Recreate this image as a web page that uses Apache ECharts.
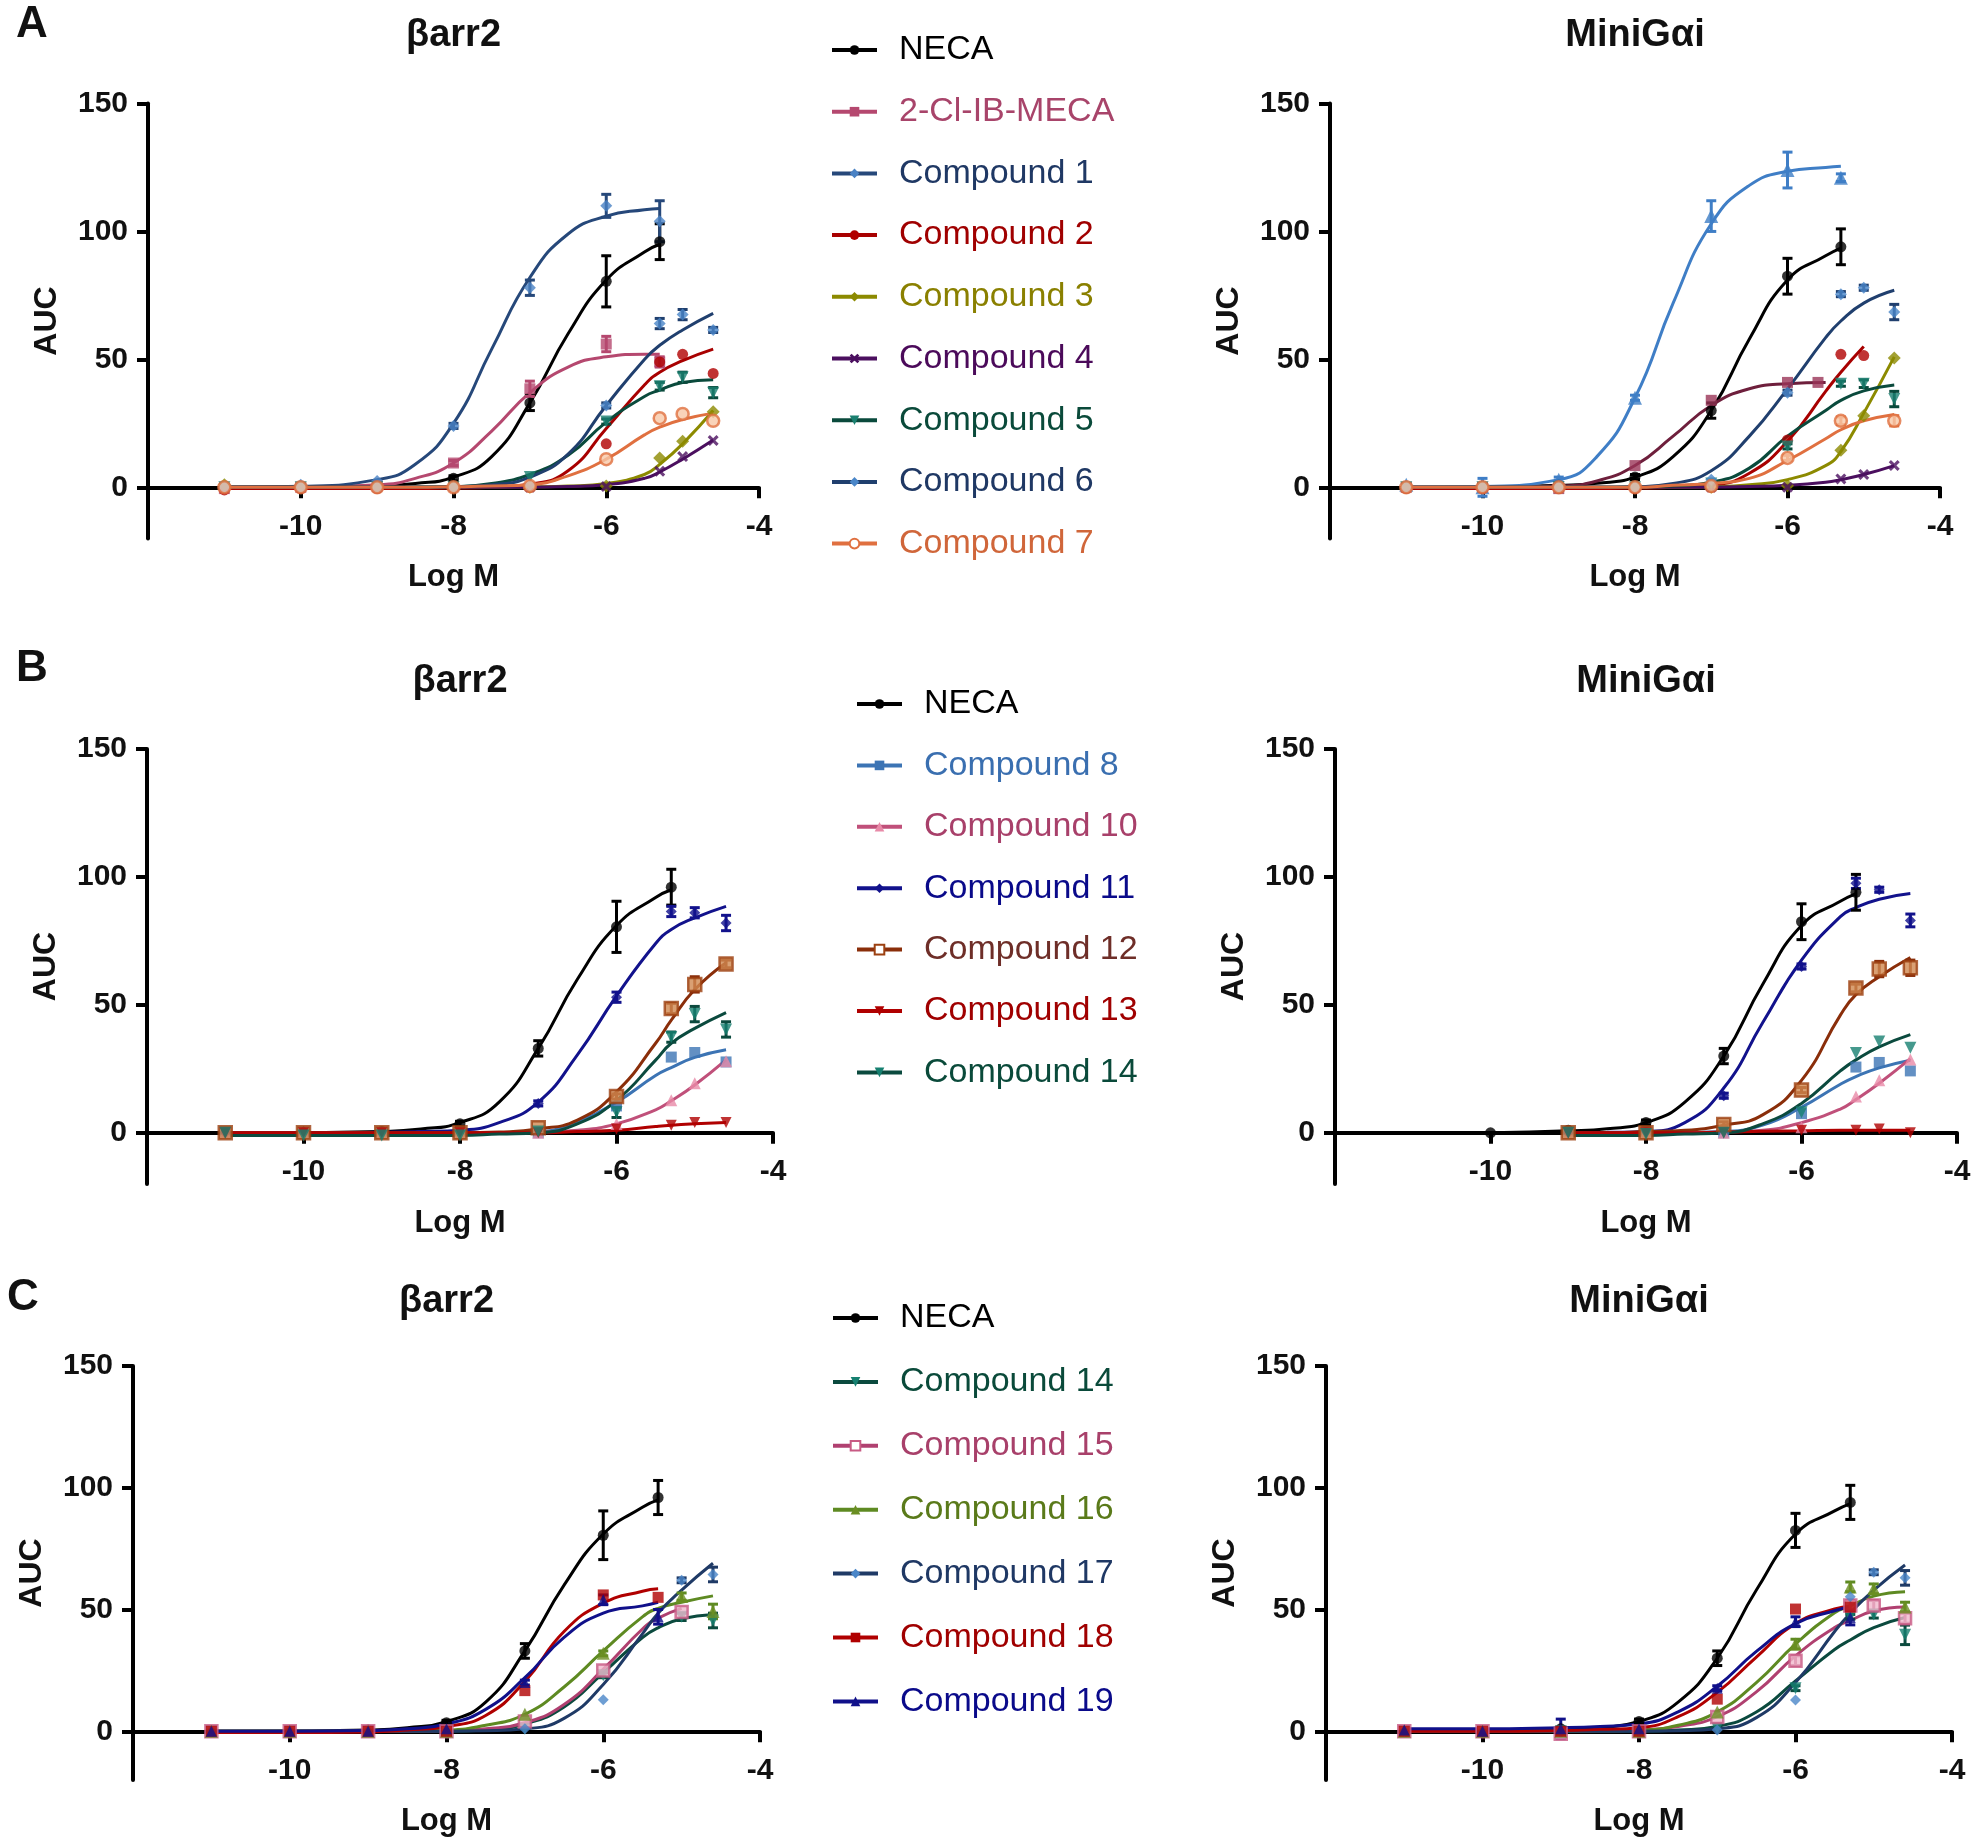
<!DOCTYPE html>
<html><head><meta charset="utf-8">
<script src="https://cdn.jsdelivr.net/npm/echarts@6/dist/echarts.min.js"></script>
<style>html,body{margin:0;padding:0;background:#fff}#c{width:1980px;height:1839px}</style>
</head><body><div id="c"></div><script>
// ---------- DATA ----------
const conc = [-11, -10, -9, -8, -7, -6, -5.3, -5, -4.6];
const concMecaGai = [-11, -10, -9, -8, -7, -6, -5.6];
const fitX = [-11, -10, -9, -8.5, -8, -7.5, -7, -6.5, -6, -5.5, -5.3, -5, -4.6];
const xTicks = [-10, -8, -6, -4];
const yTicks = [0, 50, 100, 150];

// NECA (shared)
const necaArrPts = [0, 0, 0.5, 3.5, 33, 80.5, 96, null, null];
const necaArrErr = [0, 0, 0, 1, 3, 10, 7, null, null];
const necaArrFit = [0, 0.1, 0.5, 1.5, 4, 12, 33, 60, 81, 92, 95, null, null];
const necaGaiPts = [null, 0, 1, 4, 30, 82.5, 94, null, null];
const necaGaiErr = [null, 0, 0, 1, 3, 7, 7, null, null];
const necaGaiFit = [null, 0, 0.8, 1.6, 4, 12, 30, 58, 81, 90.5, 93.5, null, null];

// Panel A - βarr2
const mecaArrPts = [-0.5, 0, 0.5, 9.5, 38.5, 56, 49, null, null];
const mecaArrErr = [0, 0, 0, 1, 3, 3, 2, null, null];
const mecaArrFit = [0, 0.2, 1, 3.5, 9.5, 22, 37, 47, 51, 52, 52, null, null];
const c1ArrPts = [0, 1, 2.5, 24, 78, 110, 104, null, null];
const c1ArrErr = [0, 0, 0, 1, 3, 4.5, 8, null, null];
const c1ArrFit = [0, 0.4, 3, 9, 25, 54, 82, 99, 106, 108.5, 109, null, null];
const c2ArrPts = [-1, -0.5, -0.5, 0, 0, 17, 49, 52, 44.5];
const c2ArrFit = [-0.5, -0.5, -0.5, -0.5, -0.3, 0, 1.2, 6.5, 23, 40, 45, 49.5, 54];
const c3ArrPts = [1, 0, 0, 0, 0, 0.5, 11.5, 18, 29.5];
const c3ArrFit = [0, 0, 0, 0, 0, 0, 0.2, 0.5, 1.5, 5, 9, 17, 30];
const c4ArrPts = [0, 0, 0, 0, 0, 0.3, 6.3, 12, 18.3];
const c4ArrFit = [0, 0, 0, 0, 0, 0, 0.1, 0.3, 1, 3.5, 6, 11, 18.5];
const c5ArrPts = [0, 0, 0, 0, 4, 25.7, 39.5, 43, 37];
const c5ArrErr = [0, 0, 0, 0, 0, 1, 1.5, 2, 2];
const c5ArrFit = [0, 0, 0, 0.1, 0.3, 1.5, 5, 12.5, 25.5, 35.5, 38, 41, 42];
const c6ArrPts = [0, 0, 0, 0, 1, 32, 64, 67.5, 61.5];
const c6ArrErr = [0, 0, 0, 0, 0, 1, 2, 2, 1];
const c6ArrFit = [0, 0, 0, 0, 0.2, 1, 4, 13, 32, 50, 55.5, 61.5, 68];
const c7ArrPts = [0, 0, 0, 0, 0.5, 11, 27, 28.7, 26];
const c7ArrFit = [0, 0, 0, 0, 0.2, 0.5, 1, 4.5, 11, 20.5, 23.5, 26.5, 29];

// Panel A - MiniGαi
const mecaGaiPts = [0, 0, -0.5, 8.5, 34, 41, 41];
const mecaGaiFit = [0, 0, 0.5, 2.5, 8.5, 20, 32, 38.5, 40.5, 41, null, null, null];
const c1GaiPts = [1, 0, 3, 35, 106, 124, 121, null, null];
const c1GaiErr = [0, 3.5, 1, 1, 6, 7, 1.5, null, null];
const c1GaiFit = [0, 0.3, 3, 12, 35, 72, 103, 118, 123.5, 125, 125.5, null, null];
const c2GaiPts = [-0.5, -0.5, -0.5, -0.5, 0, 18.5, 52, 51.5, null];
const c2GaiFit = [-0.5, -0.5, -0.5, -0.5, -0.3, 0, 0.8, 5.5, 18, 37.5, 45, 55, null];
const c3GaiPts = [0, 0, 0, 0, 0, 0.6, 14.5, 28, 50.5];
const c3GaiFit = [0, 0, 0, 0, 0, 0, 0.2, 1, 3, 8.5, 14, 29, 51];
const c4GaiPts = [0, 0, 0, 0, 0, 0, 3.3, 5, 8.5];
const c4GaiFit = [0, 0, 0, 0, 0, 0, 0.1, 0.3, 0.8, 2, 3, 5, 8.5];
const c5GaiPts = [0, 0, 0, 0, 1.5, 16, 40.5, 40.5, 34.5];
const c5GaiErr = [0, 0, 0, 0, 0, 1, 1, 1.5, 3];
const c5GaiFit = [0, 0, 0, 0, 0.1, 0.5, 2, 7.5, 20, 30, 34, 37.7, 40];
const c6GaiPts = [0, 0, 0, 0, 3, 37, 75.5, 78, 68.5];
const c6GaiErr = [0, 0, 0, 0, 0, 1, 1, 1, 3];
const c6GaiFit = [0, 0, 0, 0, 0.2, 1.5, 6.5, 20, 38.5, 58.5, 65, 72, 77];
const c7GaiPts = [0, 0, 0, 0, 0.5, 11.5, 26, null, 26];
const c7GaiErr = [0, 0, 0, 0, 0, 1, 1.5, null, 2];
const c7GaiFit = [0, 0, 0, 0, 0, 0.8, 1.5, 3.5, 10.5, 19, 22.5, 26, 28.5];

// Panel B - βarr2
const c8ArrPts = [0, 0, 0, 0, 0, 10.5, 29.6, 31.4, 27.7];
const c8ArrFit = [0, 0, 0, 0, 0, 0.1, 0.5, 4.5, 12, 22.4, 25.5, 29.5, 32.5];
const c10ArrPts = [0, 0, 0, 0, 0, 3.4, 12.7, 19.4, 28];
const c10ArrFit = [0, 0, 0, 0, 0, 0, 0.3, 1, 3.5, 9, 12.5, 18.7, 28.5];
const c11ArrPts = [0, 0.5, 0.3, 0.5, 11.5, 53, 86.5, 86, 82];
const c11ArrErr = [0, 0, 0, 0, 1, 2, 2, 2, 3];
const c11ArrFit = [0, 0, 0.2, 0.5, 1, 4, 12, 30.5, 53.5, 74, 79.5, 84, 88.5];
const c12ArrPts = [0, 0, 0, 0, 2, 14.2, 48.6, 58, 66];
const c12ArrErr = [0, 0, 0, 0, 0, 1, 2, 3, 1.5];
const c12ArrFit = [0, 0, 0, 0, 0, 0.3, 1.5, 5, 16, 35, 44, 56, 66.5];
const c13ArrPts = [0, 0, 0, 0, 0, 1.5, 3, 4, 4];
const c13ArrFit = [0, 0, 0, 0, 0, 0, 0, 0.5, 1, 2.5, 3, 3.5, 4];
const c14ArrPts = [0, -1, -1, -1, 0.5, 8, 37.4, 46.4, 40.4];
const c14ArrErr = [0, 0, 0, 0, 0, 2, 2, 3, 3];
const c14ArrFit = [-1, -1, -1, -1, -1, -0.5, 0, 3.5, 12.7, 28.4, 35, 40.8, 47];

// Panel B - MiniGαi
const c8GaiPts = [null, null, 0, 0, 0, 7.5, 25.7, 27.5, 24.2];
const c8GaiFit = [null, null, 0, 0, 0, 0.1, 0.5, 3, 10, 19, 22, 25.4, 28.4];
const c10GaiPts = [null, null, 0, 0, 0, 2.2, 14.2, 20.5, 28.7];
const c10GaiFit = [null, null, 0, 0, 0, 0, 0.3, 1, 4, 9.3, 13, 19.4, 29];
const c11GaiPts = [null, null, 0, 0.5, 14.5, 65, 97.5, 95, 83];
const c11GaiErr = [null, null, 0, 0, 1, 1, 2, 1, 2.5];
const c11GaiFit = [null, null, 0, 0.2, 0.5, 4, 17.5, 43, 67.5, 84.5, 88, 91.3, 93.5];
const c12GaiPts = [null, null, 0, 0, 3.3, 16.7, 56.6, 64, 64.5];
const c12GaiErr = [null, null, 0, 0, 1, 1, 1.5, 3, 3];
const c12GaiFit = [null, null, 0, 0, 0.5, 1, 3, 7, 20.5, 46, 54, 61, 68.5];
const c13GaiPts = [null, null, 0, 0, 0, 1, 1, 1.5, 0];
const c13GaiFit = [null, null, 0, 0, 0, 0, 0.3, 0.6, 0.8, 1, 1, 1, 1];
const c14GaiPts = [null, null, 0, -0.5, 0, 8, 31.2, 35.7, 33.2];
const c14GaiFit = [null, null, -1, -1, -1, -0.5, 0, 3.5, 11.5, 24.2, 28.5, 33.6, 38.4];

// Panel C - βarr2
const c14ArrPtsC = [0, 0, 0, 0, 1, 23, null, 47, 45.5];
const c14ArrErrC = [0, 0, 0, 0, 0, 1, null, 1.5, 3];
const c14ArrFitC = [0, 0, 0, 0, 0, 0.5, 3, 10, 24, 38.5, 42.5, 46.2, 48];
const c15ArrPts = [0, 0, 0, 0, 4, 25, null, 49, null];
const c15ArrFit = [0, 0, 0, 0, 0.2, 1, 3.5, 11, 25.5, 42, 46.5, 50.5, null];
const c16ArrPts = [0, 0, 0, 0, 7, 32, null, 55.3, 49.2];
const c16ArrErr = [0, 0, 0, 0, 0, 1, null, 1.5, 3];
const c16ArrFit = [0, 0, 0, 0.2, 0.5, 2.5, 7, 18.2, 33, 47, 50.5, 53, 55.6];
const c17ArrPts = [0, 0, 0, 0, 1, 13, null, 62, 64.4];
const c17ArrErr = [0, 0, 0, 0, 0, 0, null, 1, 3];
const c17ArrFit = [0, 0, 0, 0, 0, 0.2, 1, 5.3, 19.2, 40, 48.5, 58, 69];
const c18ArrPts = [0, 0, 0, 0, 16.7, 56, 55, null, null];
const c18ArrFit = [-0.5, -0.5, -0.3, 0.5, 2, 6.5, 20.5, 41, 52.6, 57.5, 58.5, null, null];
const c19ArrPts = [0, 0, 0, 1, 20, 54, 47, null, null];
const c19ArrErr = [0, 0, 0, 0, 1, 2, 3, null, null];
const c19ArrFit = [0, 0, 0.3, 1, 3, 9, 22, 38.6, 48.5, 51.5, 53, null, null];

// Panel C - MiniGαi
const c14GaiPtsC = [0, 0, 0, 0, 1.4, 17.7, 47, 48, 39.6];
const c14GaiErrC = [0, 0, 0, 0, 0, 1, 1, 1.5, 4];
const c14GaiFitC = [0, 0, 0, 0, 0, 0.5, 2, 7.9, 20.7, 33.6, 37.5, 42.6, 46.7];
const c15GaiPts = [0, 0, -1, 0, 5.9, 29, 51.7, 51.7, 46.4];
const c15GaiErr = [0, 0, 0, 0, 0, 2, 2, 2, 2];
const c15GaiFit = [0, 0, 0, 0.2, 0.5, 2, 6, 16.2, 31, 42.6, 45.5, 49.4, 51];
const c16GaiPts = [0, 0, 0, 0, 7.9, 35.8, 59.3, 58.5, 51];
const c16GaiErr = [0, 0, 0, 0, 0, 2, 2, 2, 2];
const c16GaiFit = [0, 0, 0, 0.2, 0.5, 2.5, 8, 20, 35.8, 48.7, 51.5, 55.5, 57.3];
const c17GaiPts = [0, 0, 0, 0, 0.5, 12.9, 55.2, 65.3, 63];
const c17GaiErr = [0, 0, 0, 0, 0, 0, 0, 1, 3];
const c17GaiFit = [0, 0, 0, 0, 0, 0.2, 1, 5.6, 20, 41, 48.5, 58, 68.3];
const c18GaiPts = [0, 0, 0, 0, 13.2, 50.2, 51, null, null];
const c18GaiFit = [0, 0, 0.3, 0.8, 1.5, 6, 16, 30.5, 44.2, 50.2, 51.5, null, null];
const c19GaiPts = [0.5, 0, 1, 1, 17.7, 45, 46.7, null, null];
const c19GaiErr = [0, 0, 4, 0, 1, 2, 3, null, null];
const c19GaiFit = [1, 1, 1.5, 2, 3, 8, 18.5, 32.8, 44.2, 49.5, 51, null, null];

const legendA = ['NECA', '2-Cl-IB-MECA', 'Compound 1', 'Compound 2', 'Compound 3', 'Compound 4', 'Compound 5', 'Compound 6', 'Compound 7'];
const legendB = ['NECA', 'Compound 8', 'Compound 10', 'Compound 11', 'Compound 12', 'Compound 13', 'Compound 14'];
const legendC = ['NECA', 'Compound 14', 'Compound 15', 'Compound 16', 'Compound 17', 'Compound 18', 'Compound 19'];
const panelTitles = ['βarr2', 'MiniGαi', 'βarr2', 'MiniGαi', 'βarr2', 'MiniGαi'];
const panelLetters = ['A', 'B', 'C'];

// ---------- STYLE ----------
const FONT = '"Liberation Sans", Arial, Helvetica, sans-serif';
const XSYM = 'path://M0,2L2,0L5,3L8,0L10,2L7,5L10,8L8,10L5,7L2,10L0,8L3,5Z';
const S = {
  neca:  {line:'#000000', mark:'#000000', sym:'circle', size:11},
  mecaA: {line:'#b5486f', mark:'#b5486f', sym:'rect', size:11},
  mecaG: {line:'#6e1f3c', mark:'#9a3458', sym:'rect', size:11},
  c1A:   {line:'#26487a', mark:'#4a82c4', sym:'diamond', size:12},
  c1G:   {line:'#3f7ec6', mark:'#3f7ec6', sym:'triangle', size:14},
  c2:    {line:'#a80000', mark:'#b00000', sym:'circle', size:11},
  c3:    {line:'#8c8a00', mark:'#8c8a00', sym:'diamond', size:13},
  c4:    {line:'#4b0f5f', mark:'#4b0f5f', sym:XSYM, size:11},
  c5:    {line:'#0a4a3c', mark:'#1a8070', sym:'triangle', rot:180, size:12},
  c6:    {line:'#203f6e', mark:'#4a86c8', sym:'diamond', size:12},
  c7:    {line:'#e07040', mark:'#e07040', sym:'emptyCircle', size:12, fill:'#f8c8a8'},
  c8:    {line:'#3c74b4', mark:'#3c74b4', sym:'rect', size:11},
  c10:   {line:'#c0507a', mark:'#e88aa8', sym:'triangle', size:12},
  c11:   {line:'#12128c', mark:'#12128c', sym:'diamond', size:11},
  c12:   {line:'#8a2e0a', mark:'#9c4010', sym:'emptyRect', size:13, fill:'#d08850'},
  c13:   {line:'#b00000', mark:'#b00000', sym:'triangle', rot:180, size:11},
  c14:   {line:'#0b4a3e', mark:'#168070', sym:'triangle', rot:180, size:12},
  c15:   {line:'#b04070', mark:'#c85a84', sym:'emptyRect', size:12, fill:'#f0b8cc'},
  c16:   {line:'#5e8a22', mark:'#6b8e23', sym:'triangle', size:13},
  c17:   {line:'#1f3a66', mark:'#4a86c8', sym:'diamond', size:11},
  c18:   {line:'#b00000', mark:'#b00000', sym:'rect', size:11},
  c19:   {line:'#10108a', mark:'#10108a', sym:'triangle', size:11}
};
const TEXTC = {
  'NECA':'#000000', '2-Cl-IB-MECA':'#a8446a', 'Compound 1':'#1f3864', 'Compound 2':'#a00000',
  'Compound 3':'#8a8000', 'Compound 4':'#4b0a5a', 'Compound 5':'#0a4a3a', 'Compound 6':'#1f3864',
  'Compound 7':'#d0663a', 'Compound 8':'#3a6fb0', 'Compound 10':'#a8406a', 'Compound 11':'#0a0a8a',
  'Compound 12':'#6e2e28', 'Compound 13':'#a00000', 'Compound 14':'#0a4a3a', 'Compound 15':'#a8406a',
  'Compound 16':'#5a7a1a', 'Compound 17':'#1f3864', 'Compound 18':'#a00000', 'Compound 19':'#0a0a8a'
};

const grids = [
  {left:148, top:103.5, width:611, height:435},
  {left:1330, top:103.5, width:610, height:435},
  {left:147, top:749, width:626, height:435},
  {left:1335, top:749, width:622, height:435},
  {left:133, top:1366, width:627, height:414},
  {left:1326, top:1366, width:626, height:414}
];
const Y_MIN = -20, Y_MAX = 150;

const panels = [
  [ {name:'NECA', s:S.neca, pts:necaArrPts, err:necaArrErr, fit:necaArrFit},
    {name:'2-Cl-IB-MECA', s:S.mecaA, pts:mecaArrPts, err:mecaArrErr, fit:mecaArrFit},
    {name:'Compound 1', s:S.c1A, pts:c1ArrPts, err:c1ArrErr, fit:c1ArrFit},
    {name:'Compound 2', s:S.c2, pts:c2ArrPts, fit:c2ArrFit},
    {name:'Compound 3', s:S.c3, pts:c3ArrPts, fit:c3ArrFit},
    {name:'Compound 4', s:S.c4, pts:c4ArrPts, fit:c4ArrFit},
    {name:'Compound 5', s:S.c5, pts:c5ArrPts, err:c5ArrErr, fit:c5ArrFit},
    {name:'Compound 6', s:S.c6, pts:c6ArrPts, err:c6ArrErr, fit:c6ArrFit},
    {name:'Compound 7', s:S.c7, pts:c7ArrPts, fit:c7ArrFit} ],
  [ {name:'NECA', s:S.neca, pts:necaGaiPts, err:necaGaiErr, fit:necaGaiFit},
    {name:'2-Cl-IB-MECA', s:S.mecaG, x:concMecaGai, pts:mecaGaiPts, fit:mecaGaiFit},
    {name:'Compound 1', s:S.c1G, pts:c1GaiPts, err:c1GaiErr, fit:c1GaiFit},
    {name:'Compound 2', s:S.c2, pts:c2GaiPts, fit:c2GaiFit},
    {name:'Compound 3', s:S.c3, pts:c3GaiPts, fit:c3GaiFit},
    {name:'Compound 4', s:S.c4, pts:c4GaiPts, fit:c4GaiFit},
    {name:'Compound 5', s:S.c5, pts:c5GaiPts, err:c5GaiErr, fit:c5GaiFit},
    {name:'Compound 6', s:S.c6, pts:c6GaiPts, err:c6GaiErr, fit:c6GaiFit},
    {name:'Compound 7', s:S.c7, pts:c7GaiPts, err:c7GaiErr, fit:c7GaiFit} ],
  [ {name:'NECA', s:S.neca, pts:necaArrPts, err:necaArrErr, fit:necaArrFit},
    {name:'Compound 8', s:S.c8, pts:c8ArrPts, fit:c8ArrFit},
    {name:'Compound 10', s:S.c10, pts:c10ArrPts, fit:c10ArrFit},
    {name:'Compound 11', s:S.c11, pts:c11ArrPts, err:c11ArrErr, fit:c11ArrFit},
    {name:'Compound 12', s:S.c12, pts:c12ArrPts, err:c12ArrErr, fit:c12ArrFit},
    {name:'Compound 13', s:S.c13, pts:c13ArrPts, fit:c13ArrFit},
    {name:'Compound 14', s:S.c14, pts:c14ArrPts, err:c14ArrErr, fit:c14ArrFit} ],
  [ {name:'NECA', s:S.neca, pts:necaGaiPts, err:necaGaiErr, fit:necaGaiFit},
    {name:'Compound 8', s:S.c8, pts:c8GaiPts, fit:c8GaiFit},
    {name:'Compound 10', s:S.c10, pts:c10GaiPts, fit:c10GaiFit},
    {name:'Compound 11', s:S.c11, pts:c11GaiPts, err:c11GaiErr, fit:c11GaiFit},
    {name:'Compound 12', s:S.c12, pts:c12GaiPts, err:c12GaiErr, fit:c12GaiFit},
    {name:'Compound 13', s:S.c13, pts:c13GaiPts, fit:c13GaiFit},
    {name:'Compound 14', s:S.c14, pts:c14GaiPts, fit:c14GaiFit} ],
  [ {name:'NECA', s:S.neca, pts:necaArrPts, err:necaArrErr, fit:necaArrFit},
    {name:'Compound 14', s:S.c14, pts:c14ArrPtsC, err:c14ArrErrC, fit:c14ArrFitC},
    {name:'Compound 15', s:S.c15, pts:c15ArrPts, fit:c15ArrFit},
    {name:'Compound 16', s:S.c16, pts:c16ArrPts, err:c16ArrErr, fit:c16ArrFit},
    {name:'Compound 17', s:S.c17, pts:c17ArrPts, err:c17ArrErr, fit:c17ArrFit},
    {name:'Compound 18', s:S.c18, pts:c18ArrPts, fit:c18ArrFit},
    {name:'Compound 19', s:S.c19, pts:c19ArrPts, err:c19ArrErr, fit:c19ArrFit} ],
  [ {name:'NECA', s:S.neca, pts:necaGaiPts, err:necaGaiErr, fit:necaGaiFit},
    {name:'Compound 14', s:S.c14, pts:c14GaiPtsC, err:c14GaiErrC, fit:c14GaiFitC},
    {name:'Compound 15', s:S.c15, pts:c15GaiPts, err:c15GaiErr, fit:c15GaiFit},
    {name:'Compound 16', s:S.c16, pts:c16GaiPts, err:c16GaiErr, fit:c16GaiFit},
    {name:'Compound 17', s:S.c17, pts:c17GaiPts, err:c17GaiErr, fit:c17GaiFit},
    {name:'Compound 18', s:S.c18, pts:c18GaiPts, fit:c18GaiFit},
    {name:'Compound 19', s:S.c19, pts:c19GaiPts, err:c19GaiErr, fit:c19GaiFit} ]
];

// ---------- BUILD ----------
const series = [];
panels.forEach((items, gi) => {
  items.forEach(it => {
    const s = it.s, xs = it.x || conc;
    const empty = s.sym.indexOf('empty') === 0;
    series.push({
      type:'line', name:it.name, xAxisIndex:gi, yAxisIndex:gi,
      smooth:0.5, showSymbol:false,
      symbol:s.sym, symbolRotate:s.rot||0, symbolSize:s.size,
      lineStyle:{color:s.line, width:3}, itemStyle:{color:s.mark},
      z:2, silent:true, animation:false,
      data: fitX.map((x,k)=>[x, it.fit[k]]).filter(p=>p[1]!=null)
    });
    if (it.err) {
      const col = s.line;
      series.push({
        type:'custom', name:it.name+' err', xAxisIndex:gi, yAxisIndex:gi,
        encode:{x:0, y:1}, z:3, silent:true,
        data: xs.map((x,k)=>[x, it.pts[k], it.err[k]]).filter(p=>p[1]!=null && p[2]!=null && p[2]>0.5),
        renderItem:(params, api) => {
          const x = api.value(0), y = api.value(1), e = api.value(2);
          const t = api.coord([x, y+e]), b = api.coord([x, y-e]);
          const st = {stroke:col, lineWidth:3};
          return {type:'group', children:[
            {type:'line', shape:{x1:t[0], y1:t[1], x2:b[0], y2:b[1]}, style:st},
            {type:'line', shape:{x1:t[0]-5, y1:t[1], x2:t[0]+5, y2:t[1]}, style:st},
            {type:'line', shape:{x1:b[0]-5, y1:b[1], x2:b[0]+5, y2:b[1]}, style:st}
          ]};
        }
      });
    }
    series.push({
      type:'scatter', name:it.name+' pts', xAxisIndex:gi, yAxisIndex:gi,
      symbol: empty ? s.sym.replace('empty','').toLowerCase() : s.sym,
      symbolRotate:s.rot||0, symbolSize:s.size,
      itemStyle: empty ? {color:s.fill, borderColor:s.mark, borderWidth:2.5} : {color:s.mark},
      z:4, silent:true,
      data: xs.map((x,k)=>[x, it.pts[k]]).filter(p=>p[1]!=null)
    });
  });
});

const axisTxt = {color:'#111', fontWeight:'bold', fontFamily:FONT};
const xAxis = grids.map((g,i)=>({
  type:'value', gridIndex:i, min:-12, max:-4, interval:2, position:'bottom',
  // move the x axis from the grid bottom (y = Y_MIN) up to y = 0
  offset: -g.height * (0 - Y_MIN) / (Y_MAX - Y_MIN),
  name:'Log M', nameLocation:'middle', nameGap:75, nameMoveOverlap:false,
  nameTextStyle:Object.assign({fontSize:31}, axisTxt),
  axisLine:{show:true, onZero:false, lineStyle:{color:'#000', width:4}},
  axisTick:{show:true, length:11, customValues:xTicks, lineStyle:{color:'#000', width:4}},
  axisLabel:Object.assign({fontSize:30, margin:24, customValues:xTicks}, axisTxt),
  splitLine:{show:false}
}));
const yAxis = grids.map((g,i)=>({
  type:'value', gridIndex:i, min:Y_MIN, max:Y_MAX,
  name:'AUC', nameLocation:'middle', nameGap:85, nameRotate:90, nameMoveOverlap:false,
  nameTextStyle:Object.assign({fontSize:32}, axisTxt),
  axisLine:{show:true, onZero:false, lineStyle:{color:'#000', width:4}},
  axisTick:{show:true, length:11, customValues:yTicks, lineStyle:{color:'#000', width:4}},
  axisLabel:Object.assign({fontSize:30, margin:20, customValues:yTicks}, axisTxt),
  splitLine:{show:false}
}));

function mkLegend(names, left, top, gap) {
  return {
    orient:'vertical', left:left, top:top, itemWidth:45, itemHeight:12, itemGap:gap,
    selectedMode:false, padding:0,
    lineStyle:{width:4},
    textStyle:{fontSize:34, fontFamily:FONT, padding:[0,0,0,17], lineHeight:40},
    data: names.map(n=>({name:n, textStyle:{color:TEXTC[n]}}))
  };
}
const legend = [
  mkLegend(legendA, 830, 30, 21.7),
  mkLegend(legendB, 855, 684, 21.4),
  mkLegend(legendC, 831, 1298, 23.9)
];

const graphic = [];
const titleY = [36, 36, 682, 682, 1302, 1302];
grids.forEach((g,i)=>{
  graphic.push({type:'text', x:g.left + g.width/2, y:titleY[i], silent:true,
    style:{text:panelTitles[i], font:'bold 38px '+FONT, fill:'#111', align:'center', verticalAlign:'middle', textAlign:'center', textVerticalAlign:'middle'}});
});
const letterPos = [[32,25],[32,669],[23,1298]];
panelLetters.forEach((L,i)=>{
  graphic.push({type:'text', x:letterPos[i][0], y:letterPos[i][1], silent:true,
    style:{text:L, font:'bold 44px '+FONT, fill:'#111', align:'center', verticalAlign:'middle', textAlign:'center', textVerticalAlign:'middle'}});
});

const chart = echarts.init(document.getElementById('c'), null, {renderer:'canvas'});
chart.setOption({
  animation:false,
  backgroundColor:'#ffffff',
  textStyle:{fontFamily:FONT},
  grid:grids.map(g=>Object.assign({containLabel:false, outerBoundsMode:'none'}, g)),
  xAxis:xAxis, yAxis:yAxis, legend:legend, graphic:graphic, series:series
});
</script></body></html>
